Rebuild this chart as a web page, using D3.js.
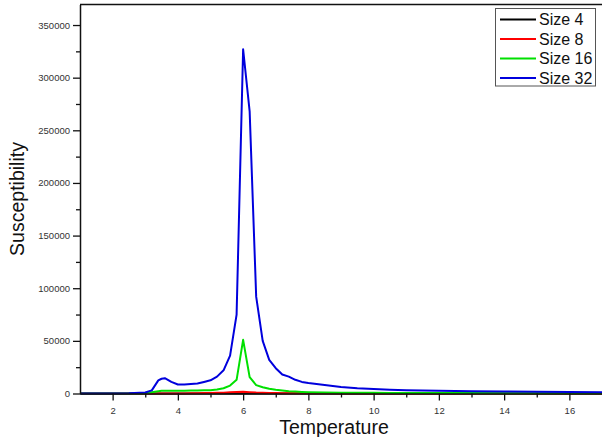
<!DOCTYPE html>
<html><head><meta charset="utf-8">
<script src="https://cdn.jsdelivr.net/npm/d3@7"></script>
<style>body{margin:0;background:#fff}svg{display:block}text{font-family:"Liberation Sans",Arial,sans-serif}</style>
</head><body>
<script>
const temps  = [1,1.5,2,2.5,3,3.2,3.4,3.5,3.6,3.8,4,4.2,4.4,4.6,4.8,5,5.2,5.4,5.6,5.8,6,6.2,6.4,6.6,6.8,7,7.2,7.4,7.6,7.8,8,8.5,9,9.5,10,10.5,11,11.5,12,13,14,15,16,17];
const size4  = [0,0,0,0,0,0,0,0,0,0,0,0,0,0,0,0,0,0,50,80,100,80,50,0,0,0,0,0,0,0,0,0,0,0,0,0,0,0,0,0,0,0,0,0];
const size8  = [0,0,0,0,0,0,0,0,0,0,50,100,200,300,400,500,600,800,1200,1500,1600,1300,900,700,500,400,350,300,250,220,200,150,100,80,60,50,50,50,50,50,50,50,50,50];
const size16 = [0,0,0,0,200,1200,2200,2500,2600,2600,2700,2700,2800,2900,3000,3200,3800,5000,7500,13000,51000,15500,8000,6000,4500,3500,2800,2200,1800,1500,1300,1000,800,700,600,550,500,450,420,380,350,320,300,280];
const size32 = [0,0,0,300,1000,3000,12500,14000,14500,11000,8500,8500,9000,9500,11000,12500,16000,22000,36000,75000,327000,268000,92000,50000,32000,24000,18000,16000,13000,11000,10000,8000,6200,5000,4200,3600,3200,2900,2600,2200,1900,1600,1400,1200];
const seriesNames = ["Size 4","Size 8","Size 16","Size 32"];
const seriesColors = ["#000000","#ff0000","#00e000","#0000dd"];
const xMajorTicks = [2,4,6,8,10,12,14,16];
const xMinorTicks = [3,5,7,9,11,13,15];
const yMajorTicks = [0,50000,100000,150000,200000,250000,300000,350000];
const yMinorTicks = [25000,75000,125000,175000,225000,275000,325000];

const W = 602, H = 437;
const L = 80, R = 602, T = 4.5, B = 393.5;
const svg = d3.select("body").append("svg").attr("width", W).attr("height", H);
const x = d3.scaleLinear().domain([1, 17]).range([L, R]);
const y = d3.scaleLinear().domain([0, 369500]).range([B, T]);

svg.append("defs").append("clipPath").attr("id","clip")
  .append("rect").attr("x", L).attr("y", T).attr("width", R - L).attr("height", B - T + 2);

// top border
svg.append("line").attr("x1", L).attr("x2", R).attr("y1", T).attr("y2", T)
  .attr("stroke", "#111").attr("stroke-width", 1.5);

const series = [size4, size8, size16, size32];
const line = d3.line().x((d, i) => x(temps[i])).y(d => y(d));
const g = svg.append("g").attr("clip-path", "url(#clip)");
series.forEach((s, k) => {
  g.append("path").datum(s).attr("d", line).attr("fill", "none")
    .attr("stroke", seriesColors[k]).attr("stroke-width", 2).attr("stroke-linejoin", "round");
});

// axes
const fmt = d3.format("d");
const xAx = svg.append("g").attr("transform", `translate(0,${B})`)
  .call(d3.axisBottom(x).tickValues(xMajorTicks).tickSize(7).tickSizeOuter(0).tickFormat(fmt));
const xMin = svg.append("g").attr("transform", `translate(0,${B})`)
  .call(d3.axisBottom(x).tickValues(xMinorTicks).tickSize(4).tickSizeOuter(0).tickFormat(""));
xMin.select(".domain").remove();
const yAx = svg.append("g").attr("transform", `translate(${L},0)`)
  .call(d3.axisLeft(y).tickValues(yMajorTicks).tickSize(7).tickSizeOuter(0).tickFormat(fmt));
const yMin = svg.append("g").attr("transform", `translate(${L},0)`)
  .call(d3.axisLeft(y).tickValues(yMinorTicks).tickSize(4).tickSizeOuter(0).tickFormat(""));
yMin.select(".domain").remove();
[xAx, xMin, yAx, yMin].forEach(a => {
  a.selectAll("line").attr("stroke", "#111").attr("stroke-width", 1.3);
  a.selectAll(".domain").attr("stroke", "#111").attr("stroke-width", 1.5);
  a.selectAll("text").attr("fill", "#333").style("font-size", "9.5px");
});
xAx.selectAll("text").attr("dy", "0.71em").attr("y", 14);
yAx.selectAll("text").attr("x", -10);

// axis titles
svg.append("text").attr("x", 334).attr("y", 434).attr("text-anchor", "middle")
  .style("font-size", "19.5px").attr("fill", "#111").text("Temperature");
svg.append("text").attr("transform", `translate(24,${(T + B) / 2}) rotate(-90)`)
  .attr("text-anchor", "middle").style("font-size", "19.5px").attr("fill", "#111").text("Susceptibility");

// legend
const lg = svg.append("g");
lg.append("rect").attr("x", 495.5).attr("y", 8.5).attr("width", 100).attr("height", 77.5)
  .attr("fill", "#fff").attr("stroke", "#555").attr("stroke-width", 1);
seriesNames.forEach((n, k) => {
  const cy = 19.5 + k * 19.5;
  lg.append("line").attr("x1", 500).attr("x2", 536).attr("y1", cy).attr("y2", cy)
    .attr("stroke", seriesColors[k]).attr("stroke-width", 2);
  lg.append("text").attr("x", 539).attr("y", cy + 5.5).style("font-size", "16px")
    .attr("fill", "#111").text(n);
});
</script>
</body></html>
